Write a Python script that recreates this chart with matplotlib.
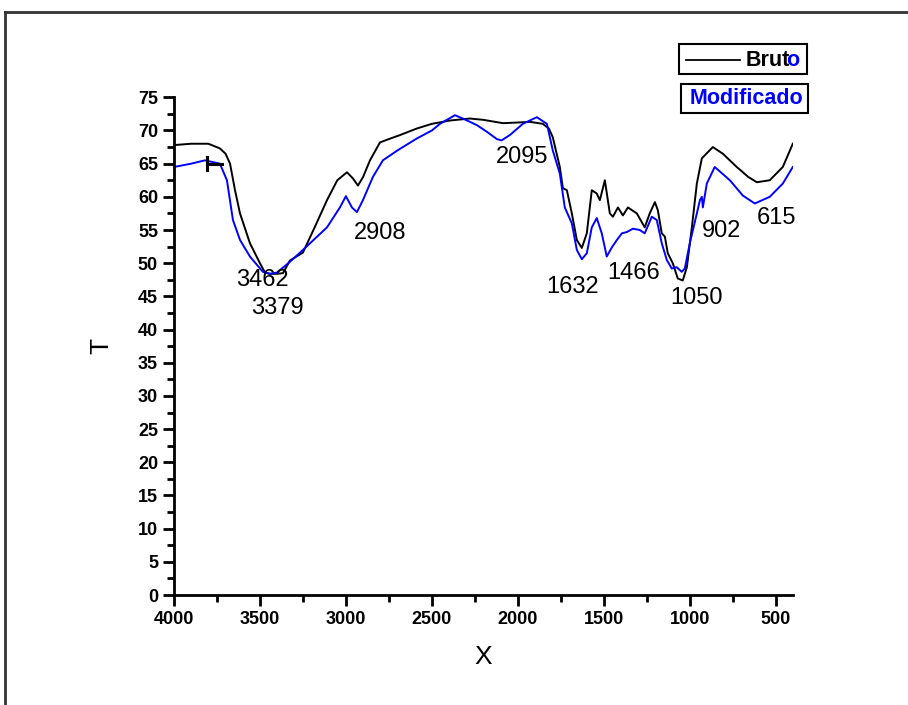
import matplotlib
matplotlib.use("Agg")
import matplotlib.pyplot as plt
from matplotlib.patches import Rectangle
from matplotlib.lines import Line2D

plt.rcParams['font.family'] = ['Liberation Sans', 'DejaVu Sans']

# Bruto (preto)
x_bruto = [4000, 3900, 3800, 3733, 3700, 3674, 3645, 3616, 3558, 3500, 3471, 3442, 3400,
           3366, 3326, 3250, 3180, 3110, 3050, 2994, 2960, 2930, 2900, 2860, 2802, 2740,
           2686, 2587, 2500, 2395, 2279, 2200, 2087, 2000, 1930, 1855, 1820, 1797, 1756,
           1738, 1715, 1686, 1657, 1628, 1599, 1570, 1541, 1523, 1494, 1465, 1447, 1418,
           1389, 1360, 1308, 1262, 1233, 1203, 1186, 1163, 1145, 1128, 1099, 1070, 1041,
           1017, 988, 959, 930, 866, 808, 727, 660, 610, 535, 459, 401]
y_bruto = [67.8, 68.0, 68.0, 67.3, 66.5, 65.0, 61.0, 57.5, 53.0, 50.0, 48.6, 48.4, 48.4,
           48.5, 50.4, 51.6, 55.5, 59.5, 62.5, 63.7, 62.8, 61.7, 63.0, 65.5, 68.2, 68.8,
           69.3, 70.3, 71.0, 71.5, 71.8, 71.6, 71.1, 71.2, 71.3, 71.0, 70.3, 69.0, 64.5,
           61.3, 61.0, 57.5, 53.5, 52.3, 54.5, 61.0, 60.5, 59.5, 62.5, 57.5, 57.0, 58.4,
           57.2, 58.4, 57.5, 55.4, 57.5, 59.2, 58.0, 54.5, 54.0, 51.5, 50.0, 47.7, 47.4,
           49.4, 55.4, 62.0, 65.8, 67.5, 66.5, 64.5, 63.0, 62.2, 62.5, 64.5, 68.0]

# Modificado (azul)
x_mod = [4000, 3900, 3820, 3733, 3692, 3657, 3616, 3558, 3483, 3442, 3400, 3326, 3250,
         3110, 3035, 3000, 2965, 2936, 2901, 2843, 2785, 2700, 2587, 2500, 2453, 2366,
         2320, 2238, 2180, 2122, 2095, 2047, 1971, 1890, 1831, 1797, 1756, 1727, 1686,
         1657, 1628, 1599, 1570, 1541, 1512, 1483, 1453, 1424, 1395, 1366, 1331, 1291,
         1262, 1221, 1192, 1163, 1134, 1105, 1076, 1047, 1029, 1000, 959, 941, 930, 924,
         901, 855, 767, 692, 622, 535, 459, 401]
y_mod = [64.5, 65.0, 65.5, 65.0, 62.5, 56.5, 53.5, 51.0, 48.7, 48.4, 48.6, 50.2, 52.0,
         55.4, 58.4, 60.1, 58.4, 57.7, 59.5, 63.0, 65.5, 67.0, 68.8, 70.0, 71.0, 72.3,
         71.8, 70.8, 69.8, 68.7, 68.5, 69.3, 71.0, 72.0, 71.0, 67.0, 63.5, 58.4, 56.0,
         52.0, 50.6, 51.5, 55.4, 56.8, 54.5, 51.0, 52.4, 53.5, 54.5, 54.7, 55.2, 55.0,
         54.5, 57.0, 56.5, 53.0, 50.5, 49.2, 49.4, 48.7, 49.2, 53.0, 57.5, 59.5, 60.0,
         58.4, 62.0, 64.5, 62.5, 60.2, 59.0, 60.0, 62.0, 64.5]

# rótulos dos picos
picos = ['3462', '3379', '2908', '2095', '1632', '1466', '1050', '902', '615']
picos_x = [3483, 3401, 2802, 1977, 1680, 1326, 959, 814, 494]
picos_y = [47.4, 43.2, 54.5, 66.0, 46.4, 48.5, 44.7, 54.8, 56.8]

# pequeno marcador preto perto de 3800
marca_x = [3810, 3720]
marca_y = [65.0, 65.0]

fig = plt.figure(figsize=(9.08, 7.05), dpi=100)
ax = fig.add_axes([0.1916, 0.156, 0.6817, 0.706])

ax.plot(x_bruto, y_bruto, color='black', lw=1.4)
ax.plot(x_mod, y_mod, color='#0000ff', lw=1.4)
ax.plot(marca_x, marca_y, color='black', lw=2.2)
ax.plot([marca_x[0], marca_x[0]], [64.0, 66.0], color='black', lw=2.2)

for t, px, py in zip(picos, picos_x, picos_y):
    ax.text(px, py, t, ha='center', va='center', fontsize=17)

ax.set_xlim(4000, 400)
ax.set_ylim(0, 75)
ax.set_xticks(range(4000, 499, -500))
ax.set_xticks(range(3750, 499, -500), minor=True)
ax.set_yticks(range(0, 76, 5))
ax.set_yticks([i + 2.5 for i in range(0, 75, 5)], minor=True)
for s in ['top', 'right']:
    ax.spines[s].set_visible(False)
for s in ['left', 'bottom']:
    ax.spines[s].set_linewidth(2)
ax.tick_params(which='major', length=8, width=2, labelsize=13, direction='out')
ax.tick_params(which='minor', length=5, width=2, direction='out')
for lab in ax.get_xticklabels() + ax.get_yticklabels():
    lab.set_fontweight('bold')
ax.set_xlabel('X', fontsize=19, labelpad=12)
ax.set_ylabel('T', fontsize=19, labelpad=18)

# legenda em duas caixas, como no original
fig.add_artist(Rectangle((679 / 908, 1 - 74 / 705), 128 / 908, 30 / 705,
                         transform=fig.transFigure, fill=False, lw=1.5, ec='black'))
fig.add_artist(Line2D([686 / 908, 740 / 908], [1 - 60 / 705, 1 - 60 / 705],
                      transform=fig.transFigure, color='black', lw=1.3))

# "Brut" preto + "o" azul encostados
leg_font = dict(fontsize=15.5, fontweight='bold', va='center')
x0 = 746 / 908
t_brut = fig.text(x0, 1 - 60 / 705, 'Brut', ha='left', color='black', **leg_font)
fig.canvas.draw()
x_o = t_brut.get_window_extent().x1 / fig.bbox.width - 4.0 / 908
fig.text(x_o, 1 - 60 / 705, 'o', ha='left', color='#0000ff', **leg_font)

fig.add_artist(Rectangle((681 / 908, 1 - 113 / 705), 127 / 908, 29 / 705,
                         transform=fig.transFigure, fill=False, lw=1.5, ec='black'))
fig.text(746 / 908, 1 - 99 / 705, 'Modificado', ha='center', color='#0000ff', **leg_font)

# moldura externa
fig.add_artist(Line2D([5 / 908, 1.0], [1 - 12 / 705, 1 - 12 / 705],
                      transform=fig.transFigure, color='#333333', lw=2))
fig.add_artist(Line2D([5 / 908, 5 / 908], [0, 1 - 12 / 705],
                      transform=fig.transFigure, color='#333333', lw=2))

fig.savefig('out.png', dpi=100)
